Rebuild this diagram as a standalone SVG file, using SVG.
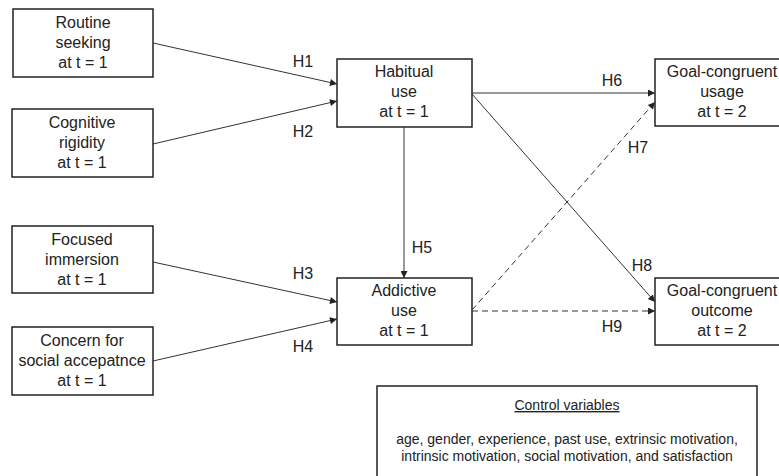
<svg xmlns="http://www.w3.org/2000/svg" width="779" height="476" viewBox="0 0 779 476">
<style>
.box{fill:#fff;stroke:#222;stroke-width:1.5}
.t{font-family:"Liberation Sans",Arial,sans-serif;font-size:16px;fill:#222;text-anchor:middle}
.s{font-family:"Liberation Sans",Arial,sans-serif;font-size:14px;fill:#222;text-anchor:middle}
.l{font-family:"Liberation Sans",Arial,sans-serif;font-size:16px;fill:#222;text-anchor:middle}
.c{stroke:#333;stroke-width:1;fill:none}
.d{stroke:#333;stroke-width:1;fill:none;stroke-dasharray:6,4}
</style>
<defs>
<marker id="ah" viewBox="0 0 10 10" refX="10" refY="5" markerWidth="9" markerHeight="7" markerUnits="userSpaceOnUse" orient="auto">
<path d="M0,0 L10,5 L0,10 z" fill="#222"/>
</marker>
</defs>
<rect width="779" height="476" fill="#fff"/>
<g id="routine"><rect class="box" x="13" y="9" width="140" height="68"/><text class="t" x="83" y="28">Routine</text><text class="t" x="83" y="48">seeking</text><text class="t" x="83" y="68">at t = 1</text></g>
<g id="cognitive"><rect class="box" x="12" y="109" width="141" height="68"/><text class="t" x="82" y="128">Cognitive</text><text class="t" x="82" y="148">rigidity</text><text class="t" x="82" y="168">at t = 1</text></g>
<g id="focused"><rect class="box" x="12" y="226" width="141" height="67"/><text class="t" x="82" y="245">Focused</text><text class="t" x="82" y="265">immersion</text><text class="t" x="82" y="285">at t = 1</text></g>
<g id="concern"><rect class="box" x="12" y="327" width="141" height="68"/><text class="t" x="82" y="346">Concern for</text><text class="t" x="82" y="366">social accepatnce</text><text class="t" x="82" y="386">at t = 1</text></g>
<g id="habitual"><rect class="box" x="337" y="59" width="135" height="68"/><text class="t" x="404" y="77">Habitual</text><text class="t" x="404" y="97">use</text><text class="t" x="404" y="117">at t = 1</text></g>
<g id="addictive"><rect class="box" x="337" y="278" width="135" height="67"/><text class="t" x="404" y="296">Addictive</text><text class="t" x="404" y="316">use</text><text class="t" x="404" y="336">at t = 1</text></g>
<g id="usage"><rect class="box" x="655" y="59" width="135" height="67"/><text class="t" x="722" y="77">Goal-congruent</text><text class="t" x="722" y="97">usage</text><text class="t" x="722" y="117">at t = 2</text></g>
<g id="outcome"><rect class="box" x="655" y="278" width="135" height="67"/><text class="t" x="722" y="296">Goal-congruent</text><text class="t" x="722" y="316">outcome</text><text class="t" x="722" y="336">at t = 2</text></g>
<g id="control"><rect class="box" x="377" y="386" width="380" height="100"/><text class="s" x="567" y="410" text-decoration="underline">Control variables</text><text class="s" x="567" y="444">age, gender, experience, past use, extrinsic motivation,</text><text class="s" x="567" y="461">intrinsic motivation, social motivation, and satisfaction</text></g>
<g id="connectors">
<line class="c" x1="153" y1="43" x2="337" y2="84" marker-end="url(#ah)"/>
<line class="c" x1="153" y1="144" x2="337" y2="101" marker-end="url(#ah)"/>
<line class="c" x1="153" y1="262" x2="337" y2="302" marker-end="url(#ah)"/>
<line class="c" x1="153" y1="361" x2="337" y2="319" marker-end="url(#ah)"/>
<line class="c" x1="404" y1="127" x2="404" y2="278" marker-end="url(#ah)"/>
<line class="c" x1="472" y1="93" x2="655" y2="93" marker-end="url(#ah)"/>
<line class="c" x1="472" y1="94" x2="655" y2="302" marker-end="url(#ah)"/>
<line class="d" x1="472" y1="310" x2="655" y2="102" marker-end="url(#ah)"/>
<line class="d" x1="472" y1="311" x2="655" y2="311" marker-end="url(#ah)"/>
<text class="l" x="303" y="67">H1</text>
<text class="l" x="303" y="137">H2</text>
<text class="l" x="303" y="279">H3</text>
<text class="l" x="303" y="352">H4</text>
<text class="l" x="422" y="253">H5</text>
<text class="l" x="612" y="86">H6</text>
<text class="l" x="638" y="153">H7</text>
<text class="l" x="642" y="271">H8</text>
<text class="l" x="612" y="332">H9</text>
</g>
</svg>
